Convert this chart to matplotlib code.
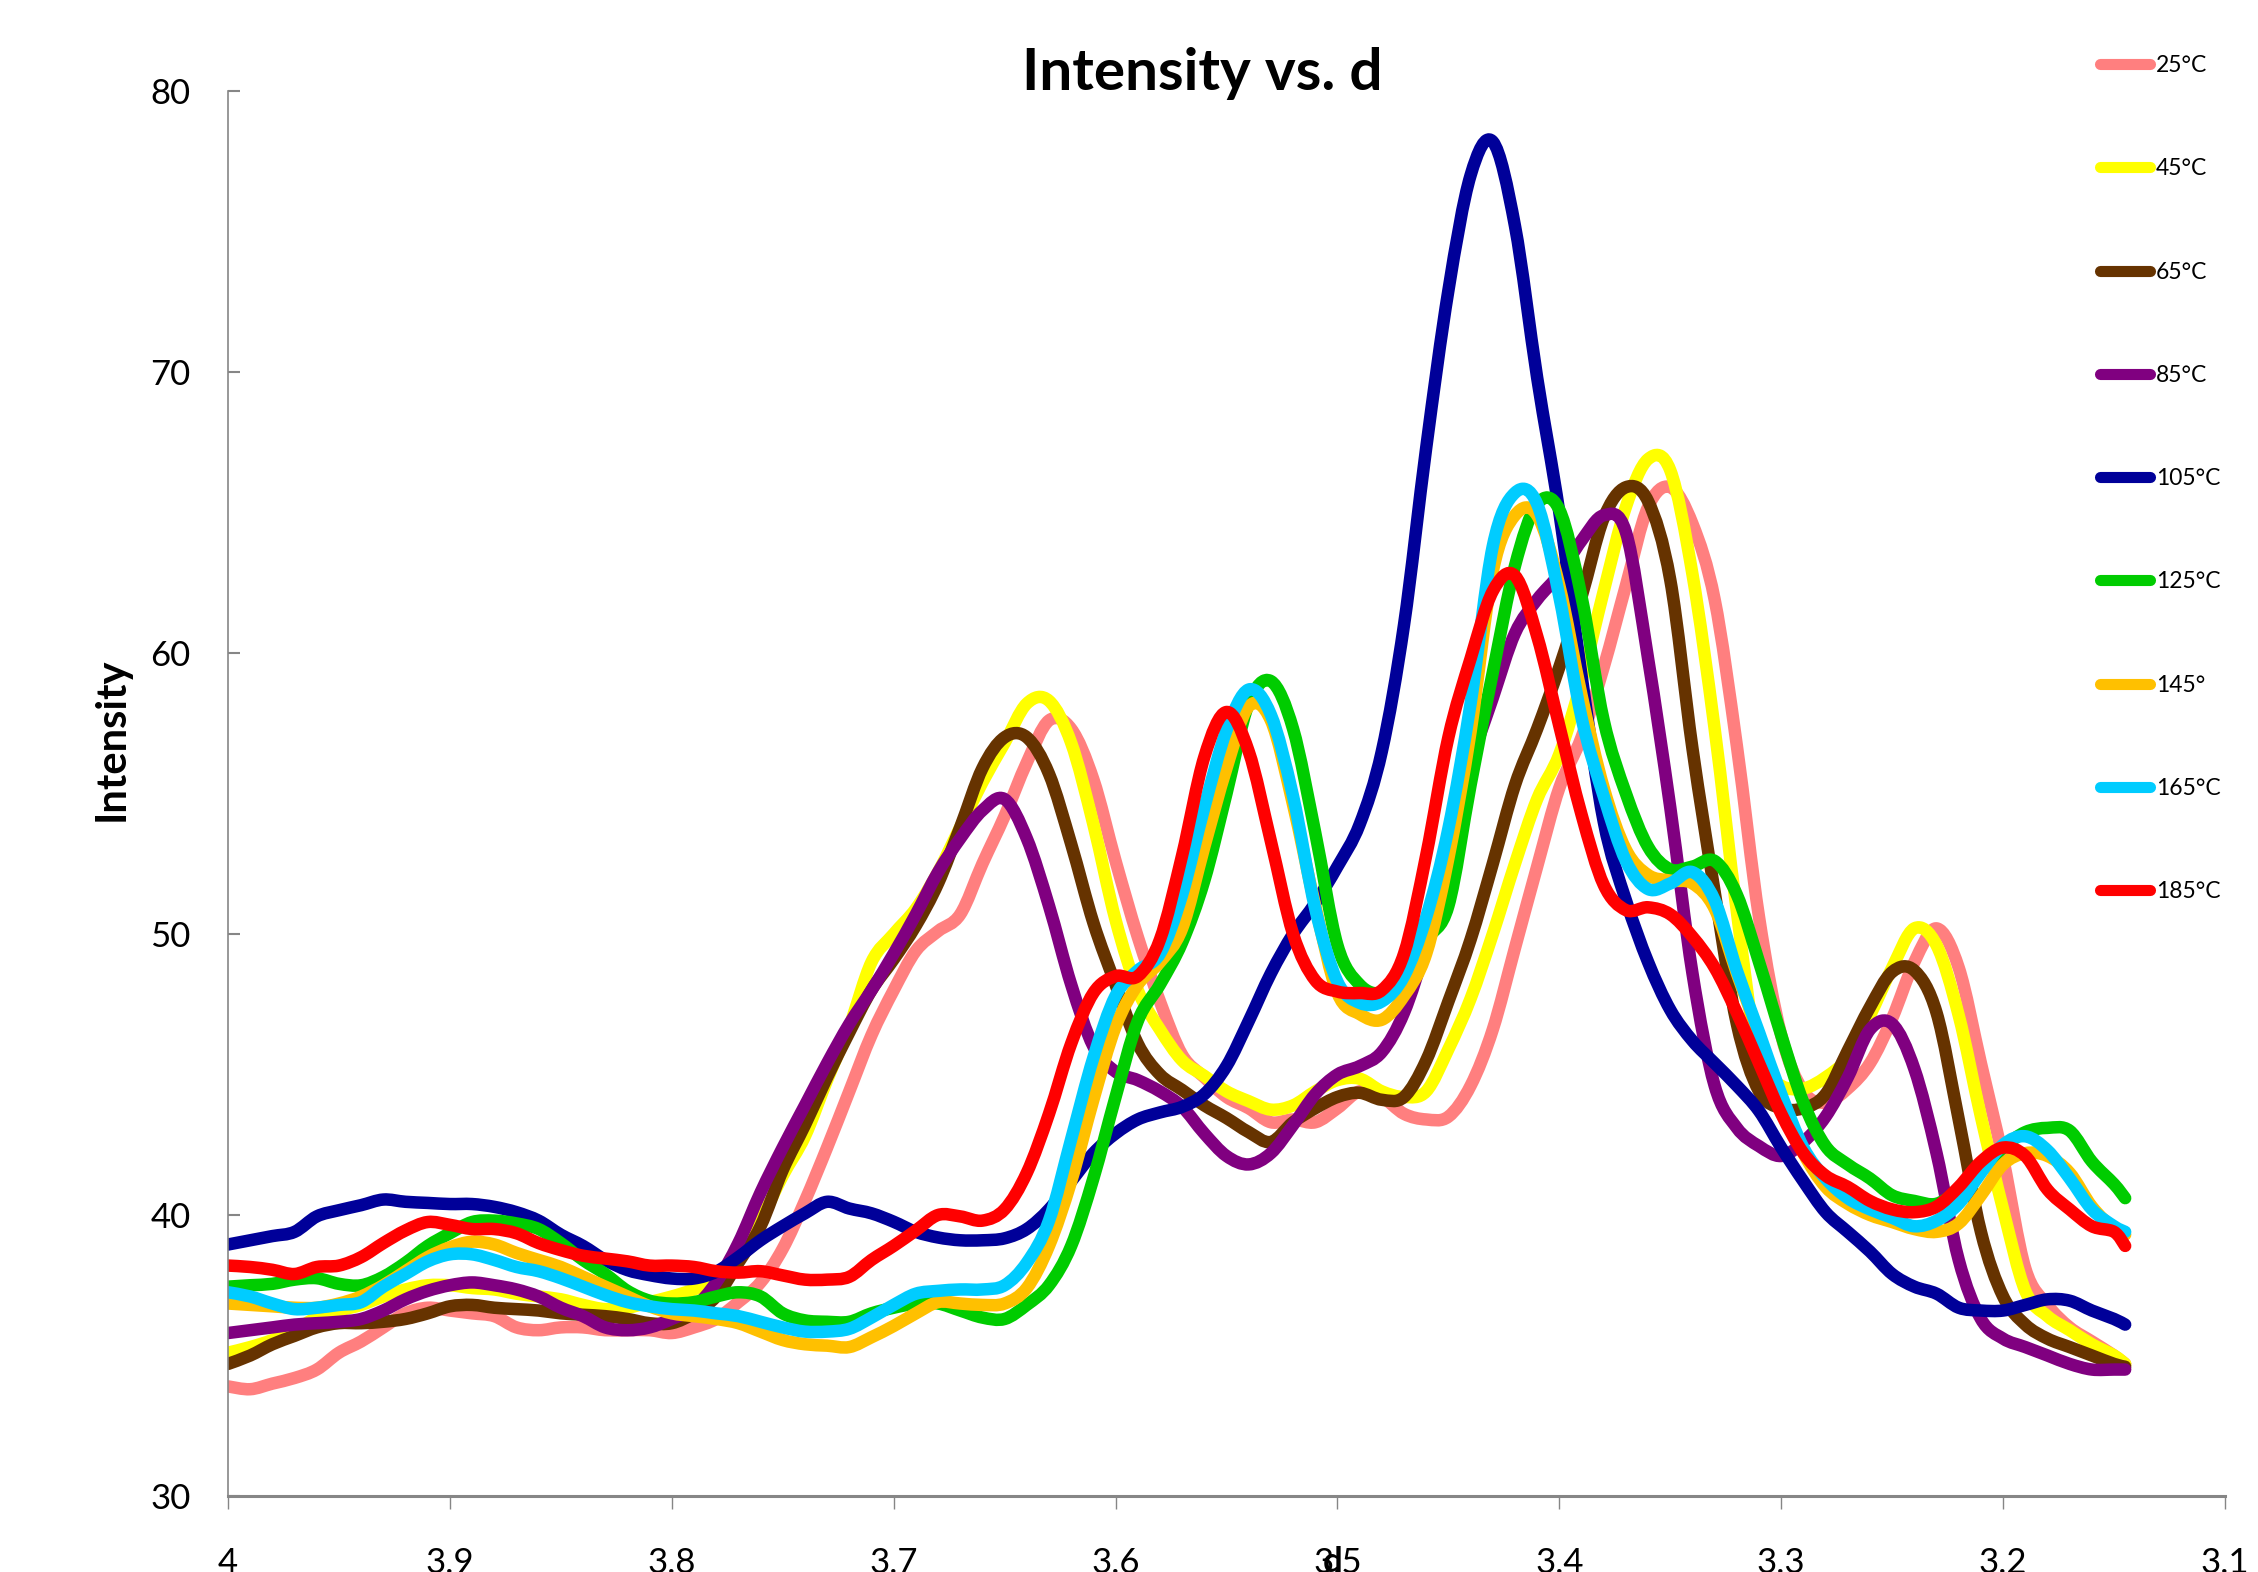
import numpy as np
import matplotlib
matplotlib.use('Agg')
import matplotlib.pyplot as plt
from matplotlib.path import Path
from matplotlib.patches import PathPatch
from matplotlib.lines import Line2D

plt.rcParams['font.family'] = ['Lato', 'DejaVu Sans']

# d spacing (x) at 0.01 steps
d = [4.00, 3.99, 3.98, 3.97, 3.96, 3.95, 3.94, 3.93, 3.92, 3.91, 3.90,
     3.89, 3.88, 3.87, 3.86, 3.85, 3.84, 3.83, 3.82, 3.81, 3.80,
     3.79, 3.78, 3.77, 3.76, 3.75, 3.74, 3.73, 3.72, 3.71, 3.70,
     3.69, 3.68, 3.67, 3.66, 3.65, 3.64, 3.63, 3.62, 3.61, 3.60,
     3.59, 3.58, 3.57, 3.56, 3.55, 3.54, 3.53, 3.52, 3.51, 3.50,
     3.49, 3.48, 3.47, 3.46, 3.45, 3.44, 3.43, 3.42, 3.41, 3.40,
     3.39, 3.38, 3.37, 3.36, 3.35, 3.34, 3.33, 3.32, 3.31, 3.30,
     3.29, 3.28, 3.27, 3.26, 3.25, 3.24, 3.23, 3.22, 3.21, 3.20,
     3.19, 3.18, 3.17, 3.16, 3.15, 3.145]

t25 = [33.9, 33.8, 34.0, 34.2, 34.5, 35.1, 35.5, 36.0, 36.5, 36.7, 36.6,
       36.5, 36.4, 36.0, 35.9, 36.0, 36.0, 35.9, 35.9, 35.9, 35.8,
       36.0, 36.3, 36.9, 37.6, 38.8, 40.5, 42.4, 44.4, 46.4, 48.0,
       49.4, 50.1, 50.7, 52.5, 54.2, 56.1, 57.6, 57.3, 55.5, 52.6,
       49.9, 47.6, 45.7, 44.9, 44.2, 43.8, 43.3, 43.4, 43.3, 43.8,
       44.4, 44.2, 43.6, 43.4, 43.5, 44.6, 46.6, 49.5, 52.4, 55.2,
       57.0, 59.5, 62.4, 65.2, 65.9, 64.6, 61.9, 56.7, 50.6, 46.4,
       44.4, 44.0, 44.5, 45.4, 47.0, 49.0, 50.2, 48.8, 45.4, 42.0,
       38.1, 36.8, 36.0, 35.5, 35.0, 34.7]

t45 = [35.1, 35.3, 35.55, 35.9, 36.35, 36.6, 36.8, 37.1, 37.35, 37.5, 37.5,
       37.4, 37.35, 37.2, 37.1, 37.0, 36.8, 36.65, 36.7, 36.9, 37.1,
       37.35, 37.7, 38.5, 39.8, 41.4, 42.8, 44.8, 46.7, 49.0, 50.0,
       50.9, 52.2, 53.8, 55.4, 56.8, 58.2, 58.3, 56.8, 53.9, 50.5,
       48.0, 46.6, 45.5, 44.95, 44.4, 44.05, 43.75, 43.9, 44.4, 44.8,
       44.85, 44.4, 44.2, 44.4, 45.9, 47.7, 50.0, 52.5, 54.8, 56.4,
       59.0, 62.2, 65.2, 66.9, 66.5, 62.8, 57.3, 50.8, 45.4, 44.6,
       44.5, 44.9, 45.6, 47.1, 48.8, 50.2, 49.6, 47.1, 43.5, 40.2,
       37.3, 36.4, 35.9, 35.4, 35.0, 34.7]

t65 = [34.7, 35.0, 35.4, 35.7, 36.0, 36.15, 36.15, 36.2, 36.3, 36.5, 36.75,
       36.8, 36.7, 36.65, 36.6, 36.5, 36.45, 36.4, 36.3, 36.15, 36.15,
       36.5, 37.1, 38.3, 39.6, 41.6, 43.2, 44.9, 46.5, 48.0, 49.1,
       50.3, 51.8, 53.8, 55.9, 57.0, 57.0, 55.7, 53.2, 50.4, 48.2,
       46.1, 45.0, 44.45, 43.9, 43.45, 42.95, 42.6, 43.3, 43.8, 44.2,
       44.35, 44.1, 44.2, 45.5, 47.6, 49.8, 52.5, 55.3, 57.3, 59.5,
       62.0, 64.8, 65.9, 65.4, 62.6, 56.6, 51.5, 46.8, 44.4, 43.8,
       43.8, 44.3, 45.85, 47.4, 48.65, 48.7, 47.2, 43.4, 39.4, 37.1,
       36.1, 35.6, 35.3, 35.0, 34.7, 34.6]

t85 = [35.8, 35.9, 36.0, 36.1, 36.15, 36.2, 36.3, 36.6, 37.0, 37.3, 37.5,
       37.6, 37.5, 37.35, 37.1, 36.7, 36.4, 36.0, 35.9, 36.0, 36.3,
       36.7, 37.6, 39.0, 40.8, 42.4, 43.9, 45.4, 46.8, 48.0, 49.3,
       50.7, 52.2, 53.4, 54.4, 54.8, 53.4, 51.0, 48.2, 46.0, 45.1,
       44.8, 44.4, 43.85, 42.9, 42.1, 41.8, 42.2, 43.2, 44.3, 45.0,
       45.3, 45.8, 47.2, 49.6, 52.6, 56.0, 58.4, 60.7, 61.9, 62.8,
       64.0, 64.9, 64.3, 59.8, 54.5, 48.6, 44.6, 43.1, 42.45, 42.1,
       42.6, 43.5, 44.9, 46.6, 46.8, 45.2, 42.2, 38.4, 36.3, 35.6,
       35.3, 35.0, 34.7, 34.5, 34.5, 34.5]

t105 = [38.95, 39.1, 39.25, 39.4, 39.95, 40.17, 40.35, 40.55, 40.47, 40.43, 40.39,
        40.39, 40.29, 40.1, 39.8, 39.3, 38.9, 38.4, 38.04, 37.86, 37.74,
        37.74, 37.98, 38.5, 39.1, 39.6, 40.06, 40.47, 40.23, 40.06, 39.76,
        39.4, 39.2, 39.1, 39.1, 39.17, 39.5, 40.2, 41.2, 42.2, 42.9,
        43.4, 43.65, 43.85, 44.3, 45.3, 46.9, 48.6, 50.0, 51.1, 52.4,
        53.9, 56.5, 61.0, 67.3, 72.9, 77.0, 78.2, 75.2, 69.8, 65.0,
        59.2, 54.0, 51.2, 49.0, 47.3, 46.2, 45.4, 44.6, 43.7, 42.4,
        41.2, 40.1, 39.4, 38.7, 37.9, 37.45, 37.2, 36.7, 36.6, 36.6,
        36.8, 37.0, 36.95, 36.6, 36.3, 36.1]

t125 = [37.45, 37.5, 37.55, 37.7, 37.75, 37.55, 37.5, 37.8, 38.3, 38.9, 39.35,
        39.75, 39.8, 39.7, 39.5, 39.0, 38.4, 37.9, 37.3, 36.95, 36.85,
        36.9, 37.1, 37.25, 37.1, 36.5, 36.25, 36.2, 36.2, 36.5, 36.7,
        36.85, 36.85, 36.6, 36.35, 36.3, 36.8, 37.5, 38.9, 41.3, 44.2,
        46.9, 48.2, 49.7, 51.9, 55.0, 58.2, 59.0, 57.3, 53.6, 49.6,
        48.2, 47.9, 48.5, 49.8, 51.0, 55.3, 59.3, 63.1, 65.3, 65.1,
        62.0, 57.6, 55.0, 53.1, 52.3, 52.4, 52.6, 51.4, 49.0, 46.4,
        44.0, 42.45, 41.8, 41.3, 40.7, 40.5, 40.4, 40.9, 41.6, 42.4,
        42.95, 43.1, 43.0, 41.9, 41.1, 40.6]

t145 = [36.85, 36.8, 36.75, 36.7, 36.7, 36.85, 37.1, 37.5, 38.0, 38.5, 38.85,
        39.05, 38.95, 38.65, 38.4, 38.15, 37.8, 37.45, 37.1, 36.75, 36.5,
        36.4, 36.3, 36.15, 35.85, 35.55, 35.4, 35.35, 35.3, 35.65, 36.05,
        36.5, 36.9, 36.85, 36.8, 36.85, 37.4, 38.9, 41.2, 44.1, 46.7,
        48.2, 49.0, 50.2, 53.1, 55.9, 58.1, 57.6, 54.6, 51.0, 47.9,
        47.15, 46.95, 47.8, 49.3, 52.7, 57.2, 62.9, 64.9, 64.9, 62.4,
        58.5, 55.2, 53.0, 52.1, 51.9, 51.8, 50.9, 48.6, 46.4, 44.0,
        42.2, 41.0, 40.4, 40.0, 39.75, 39.5, 39.4, 39.7, 40.7, 41.8,
        42.2, 42.1, 41.5, 40.3, 39.5, 39.3]

t165 = [37.25, 37.1, 36.85, 36.65, 36.7, 36.8, 36.9, 37.45, 37.9, 38.35, 38.6,
        38.6, 38.4, 38.15, 38.0, 37.75, 37.45, 37.15, 36.9, 36.75, 36.65,
        36.6, 36.5, 36.4, 36.2, 36.0, 35.85, 35.85, 35.95, 36.35, 36.8,
        37.2, 37.3, 37.35, 37.35, 37.5, 38.3, 39.8, 42.7, 45.6, 47.8,
        48.7, 49.3, 51.4, 54.5, 57.25, 58.7, 57.8, 54.9, 50.9, 48.3,
        47.55, 47.6, 48.5, 50.6, 53.75, 58.2, 63.8, 65.7, 65.3, 62.0,
        57.7, 54.9, 52.6, 51.6, 51.8, 52.2, 51.2, 48.7, 46.5, 44.3,
        42.4, 41.3, 40.6, 40.2, 39.9, 39.6, 39.8, 40.4, 41.5, 42.5,
        42.8, 42.3, 41.3, 40.2, 39.6, 39.4]

t185 = [38.2, 38.15, 38.05, 37.9, 38.15, 38.2, 38.5, 39.0, 39.45, 39.75, 39.65,
        39.5, 39.5, 39.35, 39.0, 38.75, 38.55, 38.45, 38.35, 38.2, 38.2,
        38.15, 38.0, 37.95, 38.0, 37.85, 37.7, 37.7, 37.8, 38.4, 38.9,
        39.45, 40.0, 39.95, 39.8, 40.2, 41.5, 43.6, 46.1, 47.9, 48.5,
        48.5, 49.8, 52.8, 56.3, 57.9, 56.5, 53.3, 50.0, 48.35, 47.95,
        47.9, 48.0, 49.3, 52.8, 57.0, 59.8, 62.2, 62.75, 60.6, 57.4,
        54.25, 51.75, 50.85, 50.95, 50.7, 49.9, 48.8, 47.2, 45.4, 43.6,
        42.2, 41.4, 41.0, 40.5, 40.2, 40.1, 40.3, 41.0, 41.9, 42.4,
        42.1, 40.9, 40.2, 39.6, 39.4, 38.9]

labels = ['25°C', '45°C', '65°C', '85°C', '105°C', '125°C', '145°', '165°C', '185°C']
series = [t25, t45, t65, t85, t105, t125, t145, t165, t185]
colors = ['#FF7F7F', '#FFFF00', '#663300', '#800080', '#000099',
          '#00CC00', '#FFC000', '#00CCFF', '#FF0000']

xticks = [4.0, 3.9, 3.8, 3.7, 3.6, 3.5, 3.4, 3.3, 3.2, 3.1]
xticklabels = ['4', '3.9', '3.8', '3.7', '3.6', '3.5', '3.4', '3.3', '3.2', '3.1']
yticks = [30, 40, 50, 60, 70, 80]


def smooth_path(x, y):
    # Excel-style smoothed line: cubic bezier through every point
    p = np.column_stack([x, y]).astype(float)
    n = len(p)
    verts = [p[0]]
    codes = [Path.MOVETO]
    for i in range(n - 1):
        p0 = p[i - 1] if i > 0 else p[i]
        p1, p2 = p[i], p[i + 1]
        p3 = p[i + 2] if i + 2 < n else p[i + 1]
        verts += [p1 + (p2 - p0) / 6, p2 - (p3 - p1) / 6, p2]
        codes += [Path.CURVE4] * 3
    return Path(verts, codes)


W, H = 2258, 1572
LW = 9
fig = plt.figure(figsize=(W / 100, H / 100), dpi=100)
ax = fig.add_axes([228 / W, 76 / H, 1997 / W, 1405 / H])

handles = []
for vals, col, lab in zip(series, colors, labels):
    ax.add_patch(PathPatch(smooth_path(d, vals), fill=False, edgecolor=col, lw=LW,
                           capstyle='round', joinstyle='round'))
    handles.append(Line2D([], [], color=col, lw=8, solid_capstyle='round', label=lab))

ax.set_xlim(4, 3.1)
ax.set_ylim(30, 80)
ax.set_xticks(xticks)
ax.set_xticklabels(xticklabels)
ax.set_yticks(yticks)

for s in ['top', 'right']:
    ax.spines[s].set_visible(False)
ax.spines['left'].set_color('#868686')
ax.spines['left'].set_linewidth(1.2)
ax.spines['bottom'].set_color('#868686')
ax.spines['bottom'].set_linewidth(2.2)

ax.tick_params(axis='x', direction='out', length=9.5, width=1.0, color='#868686',
               pad=27, labelsize=25)
ax.tick_params(axis='y', direction='in', length=8.5, width=1.5, color='#868686',
               pad=27, labelsize=25)

fig.text(1202 / W, 1 - 90 / H, 'Intensity vs. d', fontsize=42, fontweight='bold',
         ha='center', va='baseline')
fig.text(112 / W, 1 - 739 / H, 'Intensity', fontsize=30, fontweight='bold',
         rotation=90, ha='center', va='center')
fig.text(1333 / W, 1 - 1546 / H, 'd', fontsize=25, fontweight='bold',
         ha='center', va='top')

ax.legend(handles=handles, loc='upper left', bbox_to_anchor=(2100 / W, 1 - 55 / H),
          bbox_transform=fig.transFigure, frameon=False, fontsize=16.5,
          handlelength=2.2, handletextpad=0.25, labelspacing=3.59,
          borderpad=0, borderaxespad=0)

fig.savefig('out.png', dpi=100)
